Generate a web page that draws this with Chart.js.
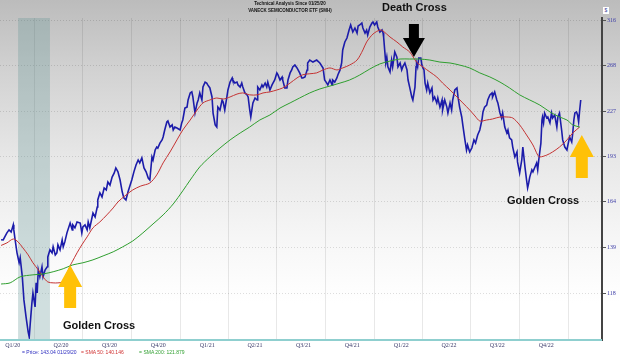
<!DOCTYPE html>
<html>
<head>
<meta charset="utf-8">
<script src="https://cdn.jsdelivr.net/npm/chart.js@4.4.1/dist/chart.umd.min.js"></script>
<style>
  html,body{margin:0;padding:0;}
  #wrap{position:relative;width:620px;height:356px;overflow:hidden;
        background:linear-gradient(to bottom,#bcbcbc 0%,#d2d2d2 20%,#e8e8e8 45%,#f8f8f8 70%,#ffffff 85%);
        font-family:"Liberation Sans",Arial,sans-serif;}
  canvas{position:absolute;left:0;top:0;}
  .t{position:absolute;white-space:nowrap;}
</style>
</head>
<body>
<div id="wrap">
<canvas id="c" width="620" height="356"></canvas>
<div class="t" style="left:190px;width:200px;top:0px;text-align:center;font-size:5.6px;font-weight:bold;line-height:7.4px;color:#111;transform:scaleX(0.8);transform-origin:100px 0;">Technical Analysis Since 01/25/20<br>VANECK SEMICONDUCTOR ETF (SMH)</div>
<div class="t" style="left:382px;top:1px;font-size:11px;font-weight:bold;line-height:12px;color:#111;">Death Cross</div>
<div class="t" style="left:63px;top:319px;font-size:11px;font-weight:bold;line-height:12px;color:#111;">Golden Cross</div>
<div class="t" style="left:507px;top:194px;font-size:11px;font-weight:bold;line-height:12px;color:#111;">Golden Cross</div>
<div class="t" style="left:603px;top:7px;width:6px;height:7px;background:#fff;font-size:5px;line-height:7px;text-align:center;color:#3f3fa0;">$</div>
<div class="t" style="left:22px;top:349px;font-size:5px;line-height:6px;">
  <span style="color:#2b2bbf;">= Price: 143.04 01/29/20</span>
  <span style="color:#d03030;margin-left:3px;">= SMA 50: 140.146</span>
  <span style="color:#2f9f2f;margin-left:14px;">= SMA 200: 121.879</span>
</div>
</div>
<script>
// ---- data (x = days since 2020-01-29) ----
const priceDay = [0,4,8,11,15,19,23,24,26,30,34,36,40,43,47,51,53,55,58,60,64,66,68,70,73,77,79,83,87,88,92,96,98,102,105,107,111,115,117,120,124,130,134,135,139,143,149,152,154,158,162,164,167,171,173,177,181,182,
186,190,194,198,201,205,209,213,216,220,224,228,231,235,239,243,246,250,254,258,261,265,269,273,277,280,
284,286,290,293,295,299,303,305,308,312,314,318,322,324,327,331,337,340,342,346,350,352,356,359,361,365,369,371,374,378,380,384,387,389,393,397,399,403,406,408,412,416,418,421,425,427,431,435,436,440,444,446,450,453,455,459,463,465,468,470,474,478,482,483,487,491,493,497,500,502,506,510,515,519,521,525,529,530,534,538,540,544,547,549,553,557,559,562,566,568,572,576,577,581,587,594,600,606,609,613,615,619,623,624,628,632,634,638,641,
643,647,651,655,658,662,666,670,672,675,679,681,685,688,690,694,698,700,703,707,709,713,717,719,720,722,724,726,728,732,735,737,741,745,747,751,754,756,760,764,766,769,773,775,779,781,782,784,786,790,792,794,796,798,801,803,807,811,813,816,820,822,826,830,831,835,839,841,845,848,850,854,858,860,863,867,
869,873,876,878,882,886,890,893,897,901,
905,907,910,914,916,920,924,925,929,933,935,939,942,944,948,952,954,957,961,963,967,971,972,976,980,982,986,989,991,993,995,999,1001,1004,1008,1010,1012,1016,1018,1019,1021,1023,1027,1029,1033,1036,1038,1042,1046,1048,1051,1055,1057,1061,1065,1066,1070,1074,1076,1078,1080,1083,1085,1087,1089,1091];
const priceClose = [143.0,142.9,145.0,146.6,148.2,147.1,150.9,148.2,143.9,136.4,131.6,134.0,125.1,115.1,108.3,102.6,100.7,105.9,113.8,118.0,112.2,122.4,118.0,128.3,125.1,129.7,125.1,128.3,129.7,134.4,137.9,136.4,139.4,135.4,136.4,140.4,137.9,142.9,139.4,141.9,146.6,151.9,148.2,150.9,149.3,152.5,151.9,146.6,149.8,150.9,148.2,152.5,149.3,154.7,157.5,155.3,160.9,165.1,
169.4,166.9,172.4,171.2,176.1,174.2,179.3,182.0,185.3,182.7,177.4,170.0,166.3,165.1,170.0,174.2,177.4,182.7,187.3,190.7,188.7,192.1,185.3,182.7,178.7,177.4,
192.8,190.7,197.7,199.8,199.1,202.7,205.0,207.2,212.5,218.7,219.5,214.8,216.4,212.5,214.8,214.0,212.5,218.0,220.3,230.0,230.8,236.8,242.9,243.8,239.4,225.9,234.3,236.8,242.9,236.8,248.1,252.6,251.7,250.0,247.3,239.4,225.9,216.4,214.8,230.8,228.4,236.8,235.1,228.4,239.4,245.5,252.6,256.4,254.5,251.7,252.6,250.0,248.1,251.7,248.1,242.9,241.2,239.4,228.4,222.7,234.3,238.5,236.8,248.1,245.5,250.0,248.1,251.7,248.1,252.6,245.5,250.0,254.5,261.1,259.4,254.5,257.3,254.5,247.3,247.3,254.5,261.1,263.9,266.8,268.6,265.8,263.9,261.1,256.4,256.4,257.3,263.9,270.6,273.5,271.5,273.5,270.6,265.8,254.5,251.7,250.0,254.5,250.0,254.5,252.6,256.4,259.4,263.9,270.6,
283.6,291.9,296.1,304.8,310.4,302.6,307.0,301.5,309.3,310.4,312.6,307.0,301.5,304.8,299.3,308.1,312.6,313.7,310.4,313.7,308.1,302.6,304.8,301.5,297.2,283.6,270.6,276.4,266.8,262.0,273.5,266.8,281.6,276.4,266.8,270.6,263.9,266.8,270.6,263.9,254.5,248.1,239.4,236.8,248.1,266.8,270.6,266.8,275.4,275.4,268.6,265.8,263.9,251.7,245.5,251.7,242.9,247.3,236.8,239.4,234.3,238.5,230.8,236.8,228.4,236.8,230.8,225.9,234.3,228.4,236.8,245.5,247.3,239.4,230.8,222.7,
216.4,205.0,197.7,201.3,196.3,199.1,205.0,202.7,208.7,212.5,
220.3,226.8,230.8,232.5,236.8,241.2,242.9,239.4,243.8,236.8,234.3,225.9,221.9,225.9,214.8,210.2,212.5,206.5,205.0,199.8,192.8,196.3,189.4,182.0,190.7,199.8,186.0,177.4,172.4,175.5,179.3,184.0,182.7,185.3,188.7,184.0,190.7,202.7,220.3,222.7,218.0,225.9,221.9,222.7,218.0,225.9,221.9,224.3,214.8,222.7,225.9,212.5,205.0,199.8,197.7,199.8,207.2,203.5,210.2,220.3,225.9,226.8,224.3,218.7,228.4,236.8];

const sma50Day = [0,11,23,32,41,51,60,70,79,88,98,107,115,120,126,130,134,143,152,162,173,186,199,211,220,233,248,263,280,293,305,318,331,342,356,369,380,393,406,418,431,444,455,468,482,493,506,519,530,544,557,568,581,594,606,619,632,643,656,670,681,688,700,713,719,732,745,756,769,782,794,807,820,831,845,858,869,882,892,901,914,925,939,952,963,976,989,1001,1010,1014,1027,1038,1051,1065,1076,1089];
const sma50 = [140.1,141.4,143.4,141.9,138.9,135.4,131.6,128.3,125.1,122.8,122.4,122.4,122.8,125.1,127.8,130.2,132.1,136.4,140.4,144.5,149.3,152.5,156.4,160.4,163.9,167.5,171.2,173.6,175.5,180.7,188.7,196.3,205.0,212.5,220.3,228.4,234.3,236.8,238.5,237.6,239.4,241.9,242.9,241.2,241.2,242.9,243.8,245.5,247.3,251.7,256.4,259.4,260.3,261.1,263.9,265.8,263.9,265.8,268.6,273.5,283.6,291.9,300.4,304.8,303.7,297.2,291.9,286.7,281.6,271.5,266.8,262.0,257.3,251.7,245.5,239.4,234.3,228.4,223.5,219.5,220.3,221.1,222.7,222.7,221.9,216.4,208.7,201.3,194.1,192.8,194.1,196.3,199.8,205.0,210.2,214.8];

const sma200Day = [0,17,36,60,79,98,117,135,154,173,192,211,229,248,267,286,305,324,342,356,374,393,412,431,450,468,487,506,525,544,562,581,600,619,638,656,675,694,713,732,751,769,788,807,826,845,863,882,901,920,939,957,976,995,1014,1033,1051,1065,1076,1089];
const sma200 = [121.9,122.4,125.1,126.0,126.4,127.4,128.8,130.6,131.6,133.0,134.9,136.9,139.4,142.4,146.6,151.4,156.4,162.7,170.6,177.4,186.0,192.8,199.1,205.0,210.2,214.8,220.3,224.3,230.0,234.3,238.5,242.9,246.4,249.0,251.7,254.5,259.1,264.8,269.7,272.5,274.5,274.5,274.5,273.5,271.5,270.6,268.6,265.8,261.1,257.3,252.6,247.3,241.2,236.8,232.5,226.8,222.7,220.3,216.4,214.8];

const yTicks = [118,139,164,193,227,268,316];
const quarterStartDay = [63,154,246,338,428,519,611,703,793,884,976,1068];
const quarterLabelDay = [22,113,204,296,388,478,569,661,753,843,934,1026];
const quarterLabels = ['Q1/20','Q2/20','Q3/20','Q4/20','Q1/21','Q2/21','Q3/21','Q4/21','Q1/22','Q2/22','Q3/22','Q4/22'];
const recession = {from:32, to:92};
const arrows = [
  {day:130, value:130.6, dir:'up'},
  {day:777, value:276.4, dir:'down'},
  {day:1093, value:208.7, dir:'up'}
];
// ---- styles ----
const arrowStyle = {
  up:{color:'#FFC107', len:43, headLen:22, headW:24, shaftW:12},
  down:{color:'#000000', len:33, headLen:19, headW:22, shaftW:10}
};

const pairs = (xs, ys) => xs.map((d,i)=>({x:d, y:ys[i]}));

const bandPlugin = {
  id:'band',
  beforeDatasetsDraw(chart){
    const {ctx, chartArea:a, scales:{x}} = chart;
    const x0 = x.getPixelForValue(recession.from), x1 = x.getPixelForValue(recession.to);
    ctx.save();
    ctx.fillStyle = 'rgba(100,150,150,0.30)';
    ctx.fillRect(x0, a.top, x1-x0, a.bottom-a.top);
    ctx.restore();
  }
};
const arrowPlugin = {
  id:'arrows',
  afterDatasetsDraw(chart){
    const {ctx, scales:{x,y}} = chart;
    arrows.forEach(ar=>{
      const st = arrowStyle[ar.dir];
      const tx = x.getPixelForValue(ar.day), ty = y.getPixelForValue(ar.value);
      const s = ar.dir==='down' ? 1 : -1;
      ctx.save();
      ctx.fillStyle = st.color;
      ctx.beginPath();
      ctx.moveTo(tx, ty);
      ctx.lineTo(tx+st.headW/2, ty - s*st.headLen);
      ctx.lineTo(tx+st.shaftW/2, ty - s*st.headLen);
      ctx.lineTo(tx+st.shaftW/2, ty - s*st.len);
      ctx.lineTo(tx-st.shaftW/2, ty - s*st.len);
      ctx.lineTo(tx-st.shaftW/2, ty - s*st.headLen);
      ctx.lineTo(tx-st.headW/2, ty - s*st.headLen);
      ctx.closePath();
      ctx.fill();
      ctx.restore();
    });
  }
};
const bottomLine = {
  id:'bottomLine',
  afterDraw(chart){
    const {ctx, chartArea:a} = chart;
    ctx.save();
    ctx.strokeStyle = '#8fcfcf';
    ctx.lineWidth = 2;
    ctx.beginPath(); ctx.moveTo(0, a.bottom); ctx.lineTo(a.right, a.bottom); ctx.stroke();
    ctx.restore();
  }
};

new Chart(document.getElementById('c'), {
  type:'line',
  data:{datasets:[
    {label:'SMA 200', data:pairs(sma200Day, sma200), borderColor:'#2e9e2e', borderWidth:1, pointRadius:0, tension:0.3},
    {label:'SMA 50', data:pairs(sma50Day, sma50), borderColor:'#c43232', borderWidth:1, pointRadius:0, tension:0.3},
    {label:'Price', data:pairs(priceDay, priceClose), borderColor:'#1c1caa', borderWidth:1.6, pointRadius:0, tension:0}
  ]},
  options:{
    responsive:false, animation:false, maintainAspectRatio:false,
    layout:{padding:{top:18,left:0,right:0,bottom:0}},
    plugins:{legend:{display:false}, tooltip:{enabled:false}},
    scales:{
      x:{type:'linear', min:-2, max:1131, position:'bottom',
         afterBuildTicks:s=>{s.ticks = quarterStartDay.map(v=>({value:v}));},
         ticks:{display:false}, grid:{color:'rgba(0,0,0,0.09)', drawTicks:false}, border:{display:false},
         afterFit:s=>{s.height=0;}},
      xl:{type:'linear', min:-2, max:1131, position:'bottom',
         afterBuildTicks:s=>{s.ticks = quarterLabelDay.map(v=>({value:v}));},
         ticks:{callback:(v,i)=>quarterLabels[i], autoSkip:false, maxRotation:0, padding:2,
                font:{family:'"Liberation Serif", serif', size:6}, color:'#3a3a6a'},
         grid:{display:false, drawTicks:false}, border:{display:false},
         afterFit:s=>{s.height=16;}},
      y:{type:'logarithmic', position:'right', min:99.6, max:318.3,
         afterBuildTicks:s=>{s.ticks = yTicks.map(v=>({value:v}));},
         ticks:{callback:v=>String(v), padding:1, font:{family:'"Liberation Serif", serif', size:6}, color:'#4040a8'},
         grid:{color:'rgba(0,0,0,0.13)', tickLength:4, tickColor:'#555', tickWidth:1},
         border:{color:'#444', width:2, dash:[1,2]},
         afterFit:s=>{s.width=18;}}
    }
  },
  plugins:[bandPlugin, arrowPlugin, bottomLine]
});
</script>
</body>
</html>
